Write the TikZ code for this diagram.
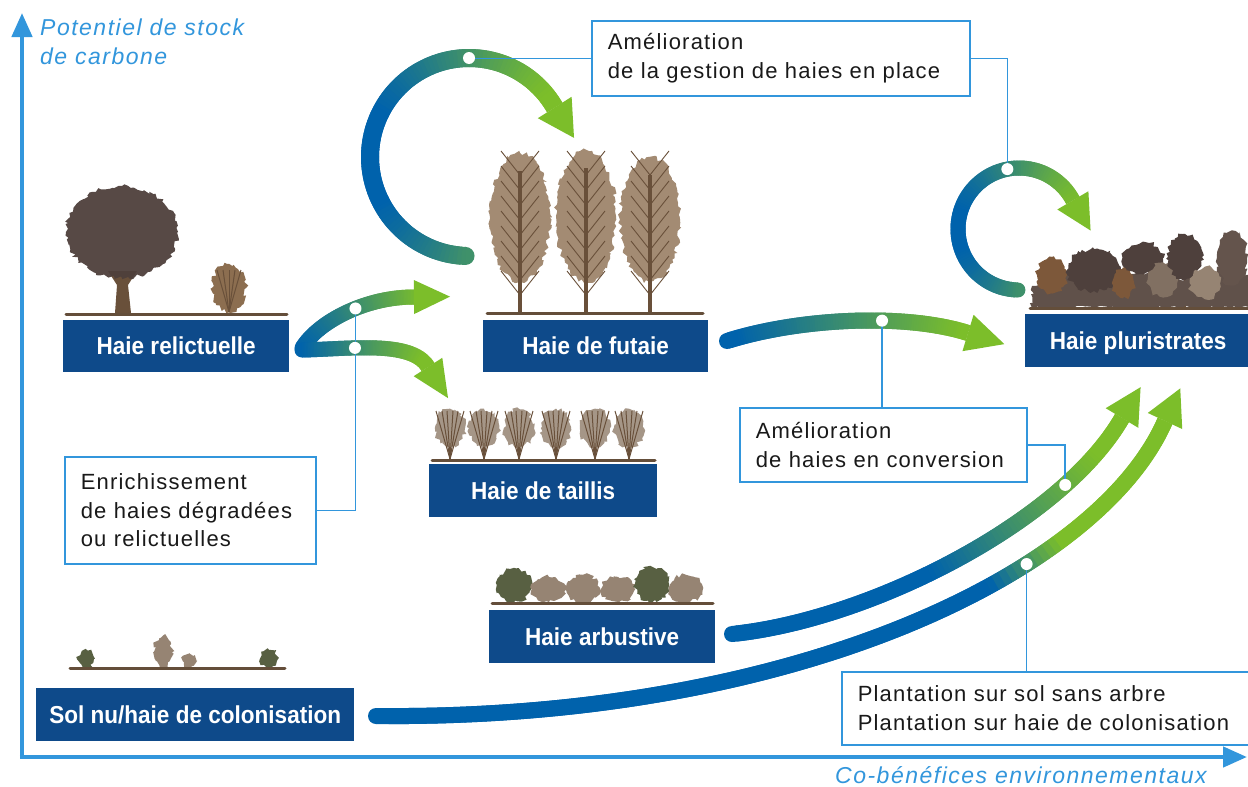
\documentclass[tikz,border=0pt]{standalone}
\usepackage{fontspec}
\setmainfont{Liberation Sans}
\newfontfamily\lblfont{Liberation Sans}[LetterSpace=5.5]
\newfontfamily\axfont{Liberation Sans}[LetterSpace=6.5]
\newfontfamily\boxfont{Liberation Sans}[FakeStretch=0.92]
\usetikzlibrary{calc,arrows.meta,decorations.pathmorphing}

\definecolor{navy}{RGB}{14,74,138}
\definecolor{ablue}{RGB}{0,98,172}
\definecolor{agreen}{RGB}{124,190,42}
\definecolor{axblue}{RGB}{50,150,220}
\definecolor{soil}{RGB}{100,78,58}
\definecolor{bark}{RGB}{105,80,58}
\definecolor{crownD}{RGB}{78,64,60}
\definecolor{twig}{RGB}{140,110,80}
\definecolor{bushG}{RGB}{88,96,66}
\definecolor{bushB}{RGB}{150,132,115}
\definecolor{leafB}{RGB}{125,88,58}

\newdimen\gxa
\newdimen\gxb
\def\NS{100}

% points along a cubic curve: prefix, S, P1, P2, E
\newcommand\bezpts[5]{%
  \foreach \k in {0,...,\NS}{%
    \pgfmathsetmacro\kp{\k/\NS}%
    \path (#2) .. controls (#3) and (#4) .. (#5) coordinate[pos=\kp] (#1\k);
  }}
% points along an arc: prefix, cx, cy, r, a0, a1
\newcommand\arcpts[6]{%
  \foreach \k in {0,...,\NS}{%
    \pgfmathsetmacro\ang{#5+(#6-#5)/\NS*\k}%
    \coordinate (#1\k) at ({#2+#4*cos(\ang)},{#3+#4*sin(\ang)});
  }}
% gradient stroke through prefix0..prefixN: prefix, x0, x1, width
\newcommand\gradseg[4]{%
  \pgfextractx{\gxa}{\pgfpointanchor{#10}{center}}%
  \pgfmathtruncatemacro\gt{max(0,min(100,(\gxa-#2)/(#3-#2)*100))}%
  \fill[agreen!\gt!ablue] (#10) circle[radius=0.5*#4];
  \foreach \k in {1,...,\NS}{%
    \pgfmathtruncatemacro\km{\k-1}%
    \pgfmathtruncatemacro\kn{min(\k+1,\NS)}%
    \pgfextractx{\gxa}{\pgfpointanchor{#1\km}{center}}%
    \pgfextractx{\gxb}{\pgfpointanchor{#1\k}{center}}%
    \pgfmathtruncatemacro\gt{max(0,min(100,((\gxa+\gxb)/2-#2)/(#3-#2)*100))}%
    \draw[line width=#4, line cap=butt, line join=round, draw=agreen!\gt!ablue]
      (#1\km) -- (#1\k) -- (#1\kn);
  }}
% arrow head: base, back point, half width, length
\newcommand\ahead[4]{%
  \fill[agreen] ($(#1)!#3!90:(#2)$) -- ($(#1)!-#4!(#2)$) -- ($(#1)!#3!-90:(#2)$) -- cycle;}

\begin{document}
\begin{tikzpicture}[x=1pt,y=-1pt,
  navybox/.style={fill=navy, text=white, font=\boxfont\bfseries\fontsize{24.5}{26}\selectfont,
    inner sep=0pt, text height=17.5pt, text depth=0pt, anchor=north west},
  txtbox/.style={draw=axblue, line width=1.5pt, fill=white, text=black!90,
    font=\lblfont\fontsize{22}{28.7}\selectfont, align=left, inner xsep=16pt, inner ysep=0pt,
    anchor=north west},
  wdot/.style={circle, fill=white, inner sep=0pt, minimum size=12pt},
  conn/.style={axblue, line width=1.5pt},
  axisline/.style={axblue, line width=4.5pt, -{Triangle[length=24pt,width=20pt]}},
  axlab/.style={text=axblue, font=\axfont\itshape\fontsize{23}{29}\selectfont, inner sep=0pt},
  soilline/.style={soil, line width=3pt, line cap=round},
  foliage/.style={decorate, decoration={random steps, segment length=3pt, amplitude=2.2pt}}]

\useasboundingbox (0,0) rectangle (1248,787);
\fill[white] (0,0) rectangle (1248,787);
\clip (0,0) rectangle (1248,787);

% ---------- axes ----------
\coordinate (O) at (22,757);
\coordinate (Ytop) at (22,13);
\coordinate (Xend) at (1247,757);
\draw[axisline] (O) -- (Ytop);
\draw[axisline] ($(O)+(-2.25,0)$) -- (Xend);
\node[axlab, anchor=base west] (ylab1) at (40,35) {Potentiel de stock};
\node[axlab, anchor=base west] (ylab2) at (40,64) {de carbone};
\node[axlab, anchor=base west] (xlab) at (835,783) {Co-bénéfices environnementaux};

% ---------- illustrations ----------
% haie relictuelle
\fill[bark] (115,313) -- (117,285) -- (108,271) -- (137,271) -- (128,285) -- (131,313) -- cycle;
\fill[crownD, foliage, opacity=0.95] (122,232) ellipse [x radius=56, y radius=46];
\fill[twig, foliage] (229,288) ellipse [x radius=17, y radius=24];
\foreach \d in {-12,-6,0,6,12} \draw[bark, line width=1pt] (229,312) -- (229+\d,270);
\draw[soilline] (66,314) -- (287,314);

% haie de futaie
\foreach \cx/\ty in {520/153, 586/150, 650/157}{
  \fill[twig, foliage, opacity=0.8] (\cx,{(\ty+282)/2}) ellipse [x radius=30, y radius={(282-\ty)/2}];
  \draw[bark, line width=3.5pt] (\cx,312) -- (\cx,\ty+18);
  \foreach \h in {175,190,...,295}{
    \draw[bark, line width=0.9pt] (\cx,\h) -- ++(-19,-24);
    \draw[bark, line width=0.9pt] (\cx,\h) -- ++(19,-24);
  }
}
\draw[soilline] (487,313) -- (703,313);

% haie de taillis
\foreach \cx in {450,484,519,556,595,629}{
  \fill[bushB, foliage, opacity=0.85] (\cx,428) ellipse [x radius=15, y radius=19];
  \foreach \d in {-14,-8,-3,3,8,14} \draw[bark, line width=1pt] (\cx,459) -- (\cx+\d,411);
}
\draw[soilline] (432,460) -- (655,460);

% haie arbustive
\foreach \cx/\ty/\cc in {514/568/bushG, 549/577/bushB, 583/575/bushB, 618/577/bushB, 652/567/bushG, 686/575/bushB}{
  \fill[\cc, foliage] (\cx,{(\ty+602)/2}) ellipse [x radius=17, y radius={(602-\ty)/2}];
}
\draw[soilline] (492,603) -- (713,603);

% sol nu
\fill[bushG, foliage] (86,659) ellipse [x radius=8, y radius=9];
\fill[bushB, foliage] (163,652) ellipse [x radius=9, y radius=16];
\fill[bushB, foliage] (190,661) ellipse [x radius=7, y radius=7];
\fill[bushG, foliage] (269,659) ellipse [x radius=9, y radius=9];
\draw[soilline] (70,668) -- (285,668);

% haie pluristrates
\foreach \tx/\tb in {1052/292, 1094/290, 1143/274, 1185/280, 1232/285}
  \draw[bark, line width=2.5pt] (\tx,308) -- (\tx,\tb);
\fill[crownD!75!bushB, foliage] (1032,308) -- (1032,286) -- (1060,274) -- (1100,282) -- (1140,272)
  -- (1180,280) -- (1220,270) -- (1252,276) -- (1252,308) -- cycle;
\fill[crownD!70!bushB, foliage] (1232,258) ellipse [x radius=15, y radius=27];
\fill[leafB, foliage] (1052,275) ellipse [x radius=15, y radius=18];
\fill[crownD, foliage] (1094,270) ellipse [x radius=27, y radius=21];
\fill[leafB, foliage] (1123,283) ellipse [x radius=11, y radius=15];
\fill[crownD, foliage] (1143,258) ellipse [x radius=20, y radius=16];
\fill[bushB!70!crownD, foliage] (1163,280) ellipse [x radius=15, y radius=17];
\fill[crownD, foliage] (1185,257) ellipse [x radius=17, y radius=23];
\fill[bushB, foliage] (1205,283) ellipse [x radius=15, y radius=16];
\draw[soilline] (1030,308) -- (1252,308);

% ---------- state boxes ----------
\node[navybox, minimum width=226pt, minimum height=52pt] (rel) at (63,320) {Haie relictuelle};
\node[navybox, minimum width=225pt, minimum height=52pt] (fut) at (483,320) {Haie de futaie};
\node[navybox, minimum width=226pt, minimum height=53pt] (plu) at (1025,314) {Haie pluristrates};
\node[navybox, minimum width=228pt, minimum height=53pt] (tai) at (429,464) {Haie de taillis};
\node[navybox, minimum width=226pt, minimum height=53pt] (arb) at (489,610) {Haie arbustive};
\node[navybox, minimum width=318pt, minimum height=53pt] (sol) at (36,688) {Sol nu/haie de colonisation};

% ---------- gradient arrows ----------
% gestion loop around futaie
\arcpts{bL}{469}{157}{99}{92}{330}
\gradseg{bL}{380}{545}{18pt}
\ahead{bL100}{bL98}{20pt}{36pt}
\coordinate (bdot) at (469,58);

% gestion loop around pluristrates
\arcpts{sL}{1019}{229}{61}{91}{332}
\gradseg{sL}{960}{1075}{15pt}
\ahead{sL100}{sL98}{18pt}{35pt}
\coordinate (sdot) at ({1019+61*cos(259)},{229+61*sin(259)});

% relictuelle -> futaie
\coordinate (cuS) at (302,348); \coordinate (cu1) at (318,322);
\coordinate (cu2) at (365,297); \coordinate (cuE) at (414,297);
\bezpts{cU}{cuS}{cu1}{cu2}{cuE}
\gradseg{cU}{300}{420}{15pt}
\ahead{cU100}{cU98}{17pt}{36pt}
\path (cuS) .. controls (cu1) and (cu2) .. (cuE) coordinate[pos=0.58] (cudot);

% relictuelle -> taillis
\coordinate (clS) at (302,350); \coordinate (cl1) at (350,349);
\coordinate (cl2) at (412,340); \coordinate (clE) at (428,367);
\bezpts{cL}{clS}{cl1}{cl2}{clE}
\gradseg{cL}{300}{420}{15pt}
\ahead{cL100}{cL98}{17pt}{37pt}
\path (clS) .. controls (cl1) and (cl2) .. (clE) coordinate[pos=0.35] (cldot);

% futaie -> pluristrates
\coordinate (dS) at (727,341); \coordinate (d1) at (800,318);
\coordinate (d2) at (905,313); \coordinate (dE) at (968,333);
\bezpts{dA}{dS}{d1}{d2}{dE}
\gradseg{dA}{735}{960}{16pt}
\ahead{dA100}{dA98}{19pt}{38pt}
\path (dS) .. controls (d1) and (d2) .. (dE) coordinate[pos=0.62] (ddot);

% arbustive -> pluristrates
\coordinate (eS) at (732,634); \coordinate (e1) at (870,620);
\coordinate (e2) at (1062,522); \coordinate (eE) at (1122,418);
\bezpts{eA}{eS}{e1}{e2}{eE}
\gradseg{eA}{930}{1095}{16pt}
\ahead{eA100}{eA98}{19pt}{36pt}
\path (eS) .. controls (e1) and (e2) .. (eE) coordinate[pos=0.78] (edot);

% sol nu -> pluristrates
\coordinate (fS) at (376,716); \coordinate (f1) at (800,720);
\coordinate (f2) at (1100,570); \coordinate (fE) at (1165,421);
\bezpts{fA}{fS}{f1}{f2}{fE}
\gradseg{fA}{990}{1060}{16pt}
\ahead{fA100}{fA98}{19pt}{36pt}
\path (fS) .. controls (f1) and (f2) .. (fE) coordinate[pos=0.668] (fdot);

% ---------- text boxes ----------
\node[txtbox, minimum width=378pt, minimum height=75pt, text width=346pt] (gest) at (591,20)
  {Amélioration\\de la gestion de haies en place};
\node[txtbox, minimum width=251pt, minimum height=107pt, text width=219pt] (en) at (64,456)
  {Enrichissement\\de haies dégradées\\ou relictuelles};
\node[txtbox, minimum width=287pt, minimum height=74pt, text width=255pt] (conv) at (739,407)
  {Amélioration\\de haies en conversion};
\node[txtbox, minimum width=419pt, minimum height=73pt, text width=387pt] (plant) at (841,671)
  {Plantation sur sol sans arbre\\Plantation sur haie de colonisation};

% ---------- connectors ----------
\draw[conn] (gest.west) -- (gest.west -| bdot);
\draw[conn] (gest.east) -| (sdot);
\draw[conn] (en.east) -| (cudot);
\draw[conn] (conv.north -| ddot) -- (ddot);
\draw[conn] (conv.east) -| (edot);
\draw[conn] (plant.north -| fdot) -- (fdot);

% ---------- dots ----------
\node[wdot] (d1n) at (bdot) {};
\node[wdot] (d2n) at (sdot) {};
\node[wdot] (d3n) at (cudot) {};
\node[wdot] (d4n) at (cldot) {};
\node[wdot] (d5n) at (ddot) {};
\node[wdot] (d6n) at (edot) {};
\node[wdot] (d7n) at (fdot) {};
\end{tikzpicture}
\end{document}
